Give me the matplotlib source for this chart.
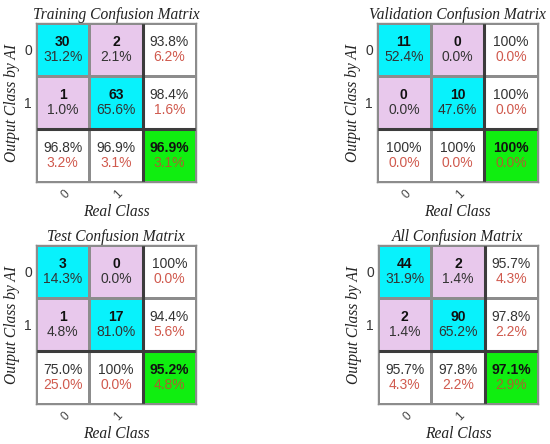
import numpy as np
from matplotlib import pyplot as plt
from matplotlib.colors import ListedColormap

# Матрицы ошибок (строки - выход ИИ, столбцы - реальный класс)
titles = ['Training Confusion Matrix', 'Validation Confusion Matrix',
          'Test Confusion Matrix', 'All Confusion Matrix']
train_counts = [[30, 2], [1, 63]]
val_counts = [[11, 0], [0, 10]]
test_counts = [[3, 0], [1, 17]]
all_counts = [[44, 2], [2, 90]]
class_labels = ['0', '1']

all_matrices = [train_counts, val_counts, test_counts, all_counts]
# положение осей в пикселях: left, top, right, bottom
boxes = [(36, 23, 196, 182), (377, 23, 538, 182),
         (36, 245, 196, 404), (378, 245, 538, 404)]

W, H = 550, 444
SERIF = 'Liberation Serif'
SANS = 'Liberation Sans'
RED = '#d05a4e'
FS = 10


def fmt(p):
    if abs(p - 100) < 1e-9:
        return '100%'
    return f'{p:.1f}%'


fig = plt.figure(figsize=(W / 100, H / 100), dpi=100)

for mat, title, (l, t, r, b) in zip(all_matrices, titles, boxes):
    cm = np.array(mat, dtype=float)
    total = cm.sum()
    ax = fig.add_axes([l / W, 1 - b / H, (r - l) / W, (b - t) / H])

    # 0 - cyan (диагональ), 1 - розовый, 2 - белый, 3 - зелёный
    kind = np.array([[0, 1, 2], [1, 0, 2], [2, 2, 3]])
    cmap = ListedColormap(['#08f2fc', '#e8c8ec', '#ffffff', '#10ee10'])
    ax.pcolormesh(np.arange(4), np.arange(4), kind, cmap=cmap, vmin=-0.5, vmax=3.5,
                  edgecolors='#8c8c8c', linewidth=1.0)
    ax.axvline(2, color='#3c3c3c', lw=2.2)
    ax.axhline(2, color='#3c3c3c', lw=2.2)
    ax.set_xlim(0, 3)
    ax.set_ylim(3, 0)

    dy = 0.14
    for i in range(2):
        for j in range(2):
            ax.text(j + 0.5, i + 0.5 - dy, f'{int(cm[i, j])}', ha='center', va='center',
                    fontsize=FS, fontweight='bold', family=SANS, color='#111111')
            ax.text(j + 0.5, i + 0.5 + dy, fmt(100 * cm[i, j] / total), ha='center',
                    va='center', fontsize=FS, family=SANS, color='#333333')
    # строка/столбец итогов
    for i in range(2):
        p = 100 * cm[i, i] / cm[i].sum()
        ax.text(2.5, i + 0.5 - dy, fmt(p), ha='center', va='center',
                fontsize=FS, family=SANS, color='#333333')
        ax.text(2.5, i + 0.5 + dy, fmt(100 - p), ha='center', va='center',
                fontsize=FS, family=SANS, color=RED)
    for j in range(2):
        p = 100 * cm[j, j] / cm[:, j].sum()
        ax.text(j + 0.5, 2.5 - dy, fmt(p), ha='center', va='center',
                fontsize=FS, family=SANS, color='#333333')
        ax.text(j + 0.5, 2.5 + dy, fmt(100 - p), ha='center', va='center',
                fontsize=FS, family=SANS, color=RED)
    acc = 100 * np.trace(cm) / total
    ax.text(2.5, 2.5 - dy, fmt(acc), ha='center', va='center',
            fontsize=FS, fontweight='bold', family=SANS, color='#111111')
    ax.text(2.5, 2.5 + dy, fmt(100 - acc), ha='center', va='center',
            fontsize=FS, family=SANS, color='#a8642e')

    ax.set_xticks([0.55, 1.55])
    ax.set_xticklabels(class_labels, rotation=45, ha='center', va='top',
                       family=SANS, fontsize=8.5, color='#444444')
    ax.set_yticks([0.5, 1.5])
    ax.set_yticklabels(class_labels, family=SANS, fontsize=FS, color='#333333')
    ax.tick_params(axis='y', length=0, pad=3)
    ax.tick_params(axis='x', length=0, pad=4)
    for s in ax.spines.values():
        s.set_color('#8c8c8c')
        s.set_linewidth(1.0)

    ax.set_title(title, family=SERIF, style='italic', fontsize=11.2, pad=3, color='#222222')
    ax.set_xlabel('Real Class', family=SERIF, style='italic', fontsize=11.2,
                  labelpad=2, color='#222222')
    ax.set_ylabel('Output Class by AI', family=SERIF, style='italic', fontsize=11.2,
                  labelpad=3, color='#222222')

plt.savefig('out.png', dpi=100)
